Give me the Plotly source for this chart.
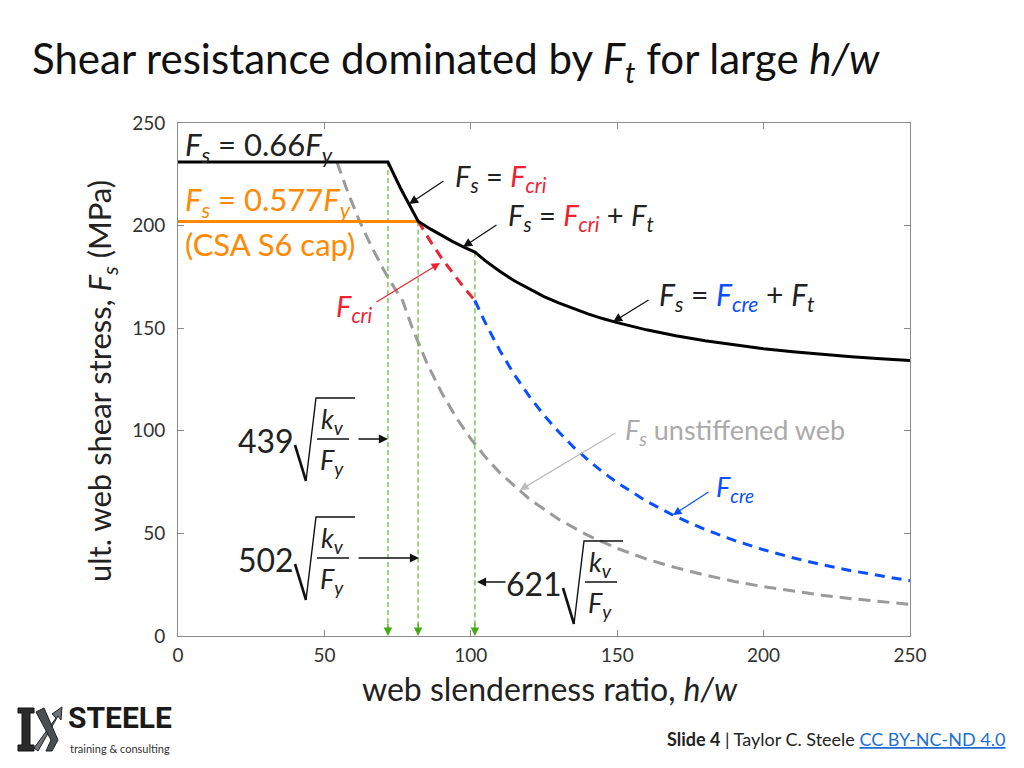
import plotly.graph_objects as go

# ---------------- data ----------------
x_ticks = [0, 50, 100, 150, 200, 250]
y_ticks = [0, 50, 100, 150, 200, 250]

# governing stiffened-web shear stress Fs (black)
x_fs = [0, 71.7, 76, 79, 82, 86, 90, 94, 98, 101.4, 105, 110, 115, 120, 125, 130,
        135, 140, 145, 150, 160, 170, 180, 190, 200, 210, 220, 230, 240, 250]
y_fs = [231, 231, 218.2, 209.9, 202.1, 198.5, 195.1, 192.1, 189.3, 187.1, 182.8, 177.6,
        173.0, 169.0, 165.4, 162.3, 159.5, 157.0, 154.7, 152.7, 149.2, 146.3, 143.9,
        141.8, 140.0, 138.5, 137.2, 136.1, 135.1, 134.2]

# CSA S6 cap (orange)
x_cap = [0, 82]
y_cap = [202, 202]

# Fcri (red dashed)
x_cri = [82, 86, 90, 94, 98, 101.4]
y_cri = [202.2, 192.8, 184.2, 176.4, 169.2, 163.5]

# Fcre (blue dashed)
x_cre = [101.4, 105, 110, 115, 120, 125, 130, 135, 140, 145, 150, 160, 170, 180,
         190, 200, 210, 220, 230, 240, 250]
y_cre = [163.5, 152.5, 138.9, 127.1, 116.75, 107.6, 99.5, 92.2, 85.8, 80.0, 74.7,
         65.7, 58.2, 51.9, 46.6, 42.0, 38.1, 34.7, 31.8, 29.2, 26.9]

# Fs unstiffened web (grey dashed)
x_uns = [54.3, 58, 62, 66, 70, 73, 76.7, 80, 85, 90, 95, 100, 105, 110, 120, 130,
         140, 150, 160, 170, 180, 190, 200, 210, 220, 230, 240, 250]
y_uns = [230.9, 216.2, 202.2, 190.0, 179.1, 171.7, 163.5, 150.2, 133.0, 118.7, 106.5,
         96.1, 87.2, 79.4, 66.75, 56.9, 49.0, 42.7, 37.5, 33.3, 29.7, 26.6, 24.0,
         21.8, 19.9, 18.2, 16.7, 15.4]

# limits 439, 502, 621 sqrt(kv/Fy) (green)
limit_x = [71.7, 82.0, 101.4]
limit_top = [231, 202, 187]
limit_coef = ["439", "502", "621"]

# ---------------- geometry helpers (pixel -> axis / paper) ----------------
L, R, T, B = 178, 910, 123, 636
W, H = R - L, B - T


def dx(px):
    return (px - L) / W * 250


def dy(py):
    return (B - py) / H * 250


def px_(px):
    return (px - L) / W


def py_(py):
    return (B - py) / H


FONT = "Lato"
BLACK = "#222222"
ORANGE = "#ff8a00"
RED = "#ee2233"
BLUE = "#0a4fff"
GREY = "#9a9a9a"
GREEN = "#6cc040"

fig = go.Figure()

fig.add_trace(go.Scatter(x=x_uns, y=y_uns, mode="lines",
                         line=dict(color=GREY, width=3, dash="12px,7px"), hoverinfo="skip"))
for xv, yt in zip(limit_x, limit_top):
    fig.add_trace(go.Scatter(x=[xv, xv], y=[yt, 4], mode="lines",
                             line=dict(color=GREEN, width=1.3, dash="5px,3px"), hoverinfo="skip"))
fig.add_trace(go.Scatter(x=x_cri, y=y_cri, mode="lines",
                         line=dict(color=RED, width=3, dash="10px,7px"), hoverinfo="skip"))
fig.add_trace(go.Scatter(x=x_cre, y=y_cre, mode="lines",
                         line=dict(color=BLUE, width=3, dash="10px,7px"), hoverinfo="skip"))
fig.add_trace(go.Scatter(x=x_cap, y=y_cap, mode="lines",
                         line=dict(color=ORANGE, width=3), hoverinfo="skip"))
fig.add_trace(go.Scatter(x=x_fs, y=y_fs, mode="lines",
                         line=dict(color="#000000", width=3), hoverinfo="skip"))

ann = []
shapes = []


def text(px, py, s, size=28, color=BLACK, xanchor="left", yanchor="middle", ref="xy",
         family=FONT):
    if ref == "xy":
        ann.append(dict(x=dx(px), y=dy(py), xref="x", yref="y", text=s, showarrow=False,
                        xanchor=xanchor, yanchor=yanchor,
                        font=dict(family=family, size=size, color=color)))
    else:
        ann.append(dict(x=px_(px), y=py_(py), xref="paper", yref="paper", text=s,
                        showarrow=False, xanchor=xanchor, yanchor=yanchor,
                        font=dict(family=family, size=size, color=color)))


def arrow(tail, tip, color="#111111", width=1.3):
    ann.append(dict(x=dx(tip[0]), y=dy(tip[1]), ax=dx(tail[0]), ay=dy(tail[1]),
                    xref="x", yref="y", axref="x", ayref="y", text="", showarrow=True,
                    arrowhead=2, arrowsize=1.4, arrowwidth=width, arrowcolor=color,
                    standoff=0, startstandoff=0))


def Fsub(sub, color=None):
    s = "<i>F</i><sub><i>%s</i></sub>" % sub
    if color:
        s = "<span style='color:%s'>%s</span>" % (color, s)
    return s


EQ = "&#8201;=&#8201;"

# green arrowheads at the x axis
for xv in limit_x:
    ann.append(dict(x=xv, y=0, xref="x", yref="y", ax=0, ay=-14, text="", showarrow=True,
                    arrowhead=2, arrowsize=1.3, arrowwidth=1.3, arrowcolor="#44aa11",
                    standoff=0))

# labels on the curves
text(183, 146, Fsub("s") + " = 0.66" + Fsub("y"), size=31)
text(183, 201, Fsub("s") + " = 0.577" + Fsub("y"), size=31, color=ORANGE)
text(183, 244, "(CSA S6 cap)", size=31, color=ORANGE)
text(453, 177, Fsub("s") + " = " + Fsub("cri", RED), size=29)
arrow((445, 180), (409, 204))
text(506, 216, Fsub("s") + " = " + Fsub("cri", RED) + " + " + Fsub("t"), size=29)
arrow((498, 224), (463, 247))
text(657, 296, Fsub("s") + " = " + Fsub("cre", BLUE) + " + " + Fsub("t"), size=30)
arrow((650, 299), (613, 322))
text(334, 307, Fsub("cri"), size=29, color=RED)
arrow((375, 303), (440, 263), color=RED, width=1.2)
text(623, 431, Fsub("s") + " unstiffened web", size=27, color="#aaaaaa")
arrow((617, 432), (520, 490), color="#bbbbbb", width=1.2)
text(714, 488, Fsub("cre"), size=27, color=BLUE)
arrow((710, 491), (673, 515), color=BLUE, width=1.2)

# sqrt(kv/Fy) labels
labels = [(295, 439, (357, 439), (388, 439)),
          (295, 558, (357, 558), (419, 558)),
          (563, 582, (507, 582), (477, 582))]
for coef, (r0, by, tail, tip) in zip(limit_coef, labels):
    text(r0 + 1, by + 1, coef, size=32, xanchor="right")
    shapes.append(dict(type="line", xref="x", yref="y", x0=dx(r0), y0=dy(by + 6),
                       x1=dx(r0 + 11), y1=dy(by + 42), line=dict(color="#111", width=2.6)))
    shapes.append(dict(type="path", xref="x", yref="y",
                       path="M %f,%f L %f,%f L %f,%f" % (dx(r0 + 11), dy(by + 42), dx(r0 + 21),
                                                         dy(by - 41), dx(r0 + 60), dy(by - 41)),
                       line=dict(color="#111", width=1.4)))
    shapes.append(dict(type="line", xref="x", yref="y", x0=dx(r0 + 22), y0=dy(by),
                       x1=dx(r0 + 54), y1=dy(by), line=dict(color="#111", width=1.5)))
    text(r0 + 37, by - 19, "<i>k</i><sub><i>v</i></sub>", size=27, xanchor="center")
    text(r0 + 37, by + 22, Fsub("y"), size=27, xanchor="center")
    arrow(tail, tip)

# title, axis titles
text(30, 61, "Shear resistance dominated by " + Fsub("t") + " for large <i>h/w</i>",
     size=42, color="#111111", ref="paper")
ann.append(dict(x=px_(101), y=py_(381), xref="paper", yref="paper",
                text="ult. web shear stress, " + Fsub("s") + " (MPa)", textangle=-90,
                showarrow=False, xanchor="center", yanchor="middle",
                font=dict(family=FONT, size=31, color=BLACK)))
text(550, 688, "web slenderness ratio, <i>h/w</i>", size=32, xanchor="center", ref="paper")

# footer
text(1007, 739, "<b>Slide 4</b> | Taylor C. Steele "
     "<span style='color:#1f6fd1;text-decoration:underline'>CC BY-NC-ND 4.0</span>",
     size=18, xanchor="right", ref="paper")

# logo
text(66, 737, "<b>STEELE</b>", size=30, color="#1a1a1a", yanchor="bottom", ref="paper",
     family="Roboto")
text(68, 740, "training &amp; consulting", size=11, color="#333333", yanchor="top",
     ref="paper")


def ppath(pts):
    return "M " + " L ".join("%f,%f" % (px_(a), py_(b)) for a, b in pts) + " Z"


shapes.append(dict(type="path", xref="paper", yref="paper",
                   path=ppath([(18, 708), (34, 708), (34, 713), (30, 713), (30, 745), (34, 745),
                               (34, 751), (18, 751), (18, 745), (22, 745), (22, 713), (18, 713)]),
                   fillcolor="#2b2b2b", line=dict(color="#111", width=1)))
shapes.append(dict(type="path", xref="paper", yref="paper",
                   path=ppath([(34, 748), (56, 718), (52, 714), (62, 707), (61, 720), (58, 716),
                               (38, 751)]),
                   fillcolor="#6d7378", line=dict(color="#222", width=1)))
shapes.append(dict(type="path", xref="paper", yref="paper",
                   path=ppath([(36, 712), (44, 708), (58, 740), (52, 751), (46, 751), (51, 740)]),
                   fillcolor="#4a4f53", line=dict(color="#222", width=1)))

axis_common = dict(showgrid=False, zeroline=False, showline=True, linecolor="#8c8c8c",
                   linewidth=1, mirror="ticks", ticks="inside", ticklen=6, tickcolor="#8c8c8c",
                   tickfont=dict(family=FONT, size=19, color="#333333"))

fig.update_layout(
    width=1024, height=768,
    margin=dict(l=L, r=1024 - R, t=T, b=768 - B, pad=0),
    paper_bgcolor="white", plot_bgcolor="white",
    showlegend=False,
    xaxis=dict(range=[0, 250], tickvals=x_ticks, ticklabelstandoff=2, **axis_common),
    yaxis=dict(range=[0, 250], tickvals=y_ticks, ticklabelstandoff=8, **axis_common),
    annotations=ann,
    shapes=shapes,
)

fig.write_html("out.html")
